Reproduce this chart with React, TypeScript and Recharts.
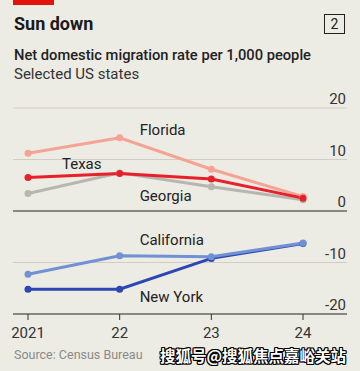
import React from 'react';
import {
  LineChart,
  Line,
  XAxis,
  YAxis,
  CartesianGrid,
  ReferenceLine,
  ReferenceDot
} from 'recharts';

const years = ['2021', '22', '23', '24'];
const florida = [11.2, 14.2, 8.1, 2.8];
const texas = [6.5, 7.3, 6.2, 2.5];
const georgia = [3.4, 7.4, 4.7, 2.2];
const california = [-12.3, -8.7, -8.9, -6.2];
const newYork = [-15.2, -15.2, -9.2, -6.3];
const yTicks = [-20, -10, 0, 10, 20];

const data = years.map((year, i) => ({
  year,
  Florida: florida[i],
  Texas: texas[i],
  Georgia: georgia[i],
  California: california[i],
  'New York': newYork[i]
}));

const FONT = 'Roboto, "Noto Sans", sans-serif';
const BG = '#ecebe4';

const series = [
  { key: 'Georgia', color: '#b7b6b0' },
  { key: 'Florida', color: '#f5a394' },
  { key: 'Texas', color: '#e8202a' },
  { key: 'New York', color: '#2c47b3' },
  { key: 'California', color: '#7191d5' }
];

// series name labels: anchor category, value height, offset to the right
const labels = [
  { text: 'Florida', x: '22', y: 15.7, dx: 20 },
  { text: 'Texas', x: '2021', y: 9.1, dx: 34 },
  { text: 'Georgia', x: '22', y: 2.9, dx: 20 },
  { text: 'California', x: '22', y: -5.6, dx: 20 },
  { text: 'New York', x: '22', y: -16.7, dx: 20 }
];

const YTick = (props: any) => {
  const { x, y, payload } = props;
  return (
    <text x={x - 1} y={y - 4} textAnchor="end" fontSize={15} fill="#333" fontFamily={FONT}>
      {payload.value}
    </text>
  );
};

const App: React.FC = () => {
  return (
    <div
      style={{
        position: 'absolute',
        left: 0,
        top: 0,
        width: 360,
        height: 371,
        background: BG,
        fontFamily: FONT,
        overflow: 'hidden'
      }}
    >
      <div style={{ position: 'absolute', left: 13, top: 0, width: 41, height: 5, background: '#e3120b' }} />
      <div style={{ position: 'absolute', left: 14, top: 13, fontSize: 18, fontWeight: 700, color: '#1a1a1a' }}>
        Sun down
      </div>
      <div
        style={{
          position: 'absolute',
          left: 324,
          top: 14,
          width: 19,
          height: 18,
          border: '1.4px solid #222',
          fontSize: 14,
          color: '#222',
          textAlign: 'center',
          lineHeight: '18px'
        }}
      >
        2
      </div>
      <div style={{ position: 'absolute', left: 14, top: 46, fontSize: 14.7, fontWeight: 500, color: '#222', whiteSpace: 'nowrap' }}>
        Net domestic migration rate per 1,000 people
      </div>
      <div style={{ position: 'absolute', left: 14, top: 65, fontSize: 15, color: '#333' }}>
        Selected US states
      </div>

      <div style={{ position: 'absolute', left: 0, top: 0 }}>
        <LineChart width={360} height={371} data={data} margin={{ top: 108, right: 12, bottom: 27, left: 13 }}>
          <CartesianGrid horizontal vertical={false} stroke="#cfcdc4" strokeWidth={1} />
          <XAxis
            dataKey="year"
            axisLine={false}
            tickLine={{ stroke: '#333' }}
            tickSize={6}
            tickMargin={7}
            padding={{ left: 15, right: 44 }}
            tick={{ fontSize: 15, fill: '#333', fontFamily: FONT }}
            interval={0}
          />
          <YAxis
            orientation="right"
            width={1}
            domain={[-20, 20]}
            ticks={yTicks}
            axisLine={false}
            tickLine={false}
            tickSize={0}
            tickMargin={0}
            tick={<YTick />}
            interval={0}
          />
          <ReferenceLine y={0} stroke="#333" strokeWidth={1.2} />
          <ReferenceLine y={-20} stroke="#333" strokeWidth={1.2} />
          {series.map((s) => (
            <Line
              key={s.key}
              type="linear"
              dataKey={s.key}
              stroke={s.color}
              strokeWidth={3}
              dot={{ r: 3.5, fill: s.color, stroke: s.color, strokeWidth: 0 }}
              isAnimationActive={false}
            />
          ))}
          {labels.map((l) => (
            <ReferenceDot
              key={l.text}
              x={l.x}
              y={l.y}
              r={0}
              fill="none"
              stroke="none"
              ifOverflow="visible"
              label={{ value: l.text, position: 'right', offset: l.dx, fontSize: 15, fill: '#222', fontFamily: FONT }}
            />
          ))}
        </LineChart>
      </div>

      <div style={{ position: 'absolute', left: 14, top: 347, fontSize: 12.5, color: '#8a8a86' }}>
        Source: Census Bureau
      </div>
      <div
        style={{
          position: 'absolute',
          left: 160,
          top: 344,
          fontSize: 15.5,
          fontWeight: 700,
          color: '#fff',
          fontFamily: '"Noto Sans CJK SC", sans-serif',
          whiteSpace: 'nowrap',
          textShadow: '1px 0 0 #000, -1px 0 0 #000, 0 1px 0 #000, 0 -1px 0 #000, 1px 1px 0 #000, -1px -1px 0 #000, 1px -1px 0 #000, -1px 1px 0 #000'
        }}
      >
        搜狐号@搜狐焦点嘉峪关站
      </div>
    </div>
  );
};

export default App;
